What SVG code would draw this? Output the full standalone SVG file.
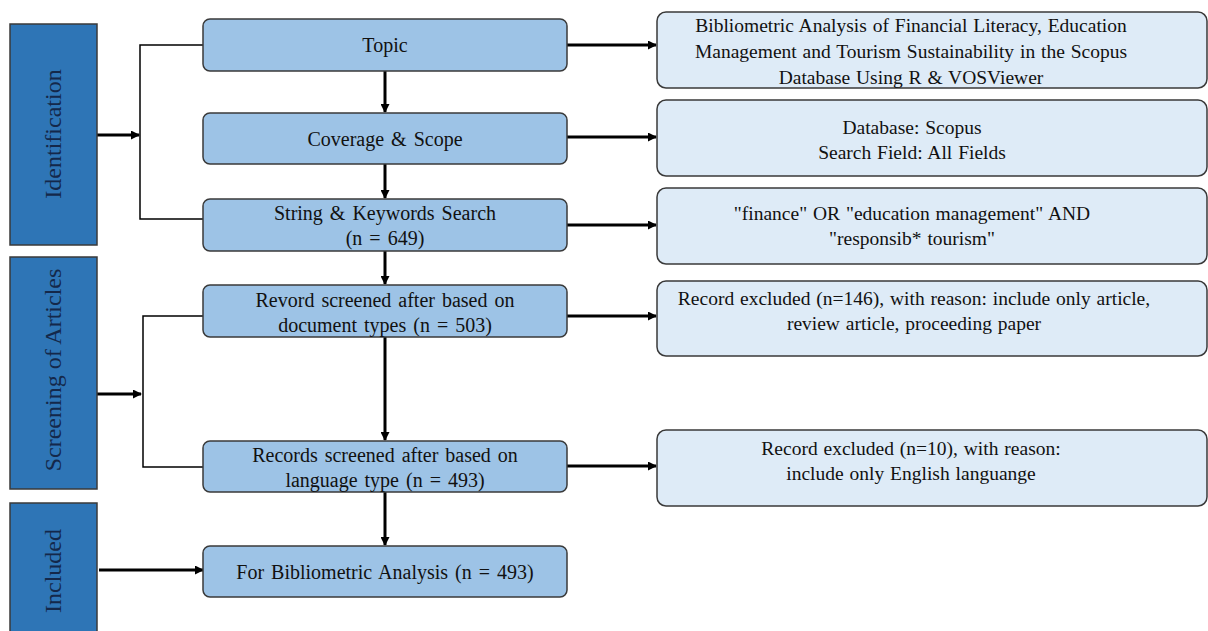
<svg xmlns="http://www.w3.org/2000/svg" width="1208" height="631" viewBox="0 0 1208 631">
<style>
.stage{fill:#2E75B6;stroke:#3a3a3a;stroke-width:1.5}
.main{fill:#9DC3E6;stroke:#3a3a3a;stroke-width:1.5}
.side{fill:#DEEBF7;stroke:#3a3a3a;stroke-width:1.5}
.st{font-family:"Liberation Serif","Times New Roman",serif;font-size:24px;fill:#14284a;text-anchor:middle}
.mt{font-family:"Liberation Serif","Times New Roman",serif;font-size:20px;fill:#111;text-anchor:middle;word-spacing:2px}
.rt{font-family:"Liberation Serif","Times New Roman",serif;font-size:19.5px;fill:#111;text-anchor:middle;word-spacing:1px}
.arr{stroke:#000;stroke-width:3;fill:none;marker-end:url(#ah)}
.br{stroke:#000;stroke-width:1.5;fill:none}
</style>
<defs>
<marker id="ah" markerWidth="9" markerHeight="9" refX="8" refY="4.5" orient="auto" markerUnits="userSpaceOnUse" viewBox="0 0 9 9">
<path d="M0,0 L9,4.5 L0,9 Z" fill="#000"/>
</marker>
</defs>
<rect width="1208" height="631" fill="#fff"/>
<g id="connectors">
<path class="br" d="M205,45 H140 V219 H205"/>
<path class="br" d="M205,316 H143 V467 H205"/>
<line class="arr" x1="97" y1="135" x2="139" y2="135"/>
<line class="arr" x1="97" y1="394" x2="141" y2="394"/>
<line class="arr" x1="99" y1="570" x2="203" y2="570"/>
<line class="arr" x1="385" y1="71" x2="385" y2="112"/>
<line class="arr" x1="385" y1="164" x2="385" y2="198"/>
<line class="arr" x1="385" y1="251" x2="385" y2="284"/>
<line class="arr" x1="385" y1="337" x2="385" y2="440"/>
<line class="arr" x1="385" y1="492" x2="385" y2="545"/>
<line class="arr" x1="567" y1="45" x2="656" y2="45"/>
<line class="arr" x1="567" y1="137" x2="656" y2="137"/>
<line class="arr" x1="567" y1="225" x2="656" y2="225"/>
<line class="arr" x1="567" y1="316" x2="656" y2="316"/>
<line class="arr" x1="567" y1="466" x2="656" y2="466"/>
</g>
<g id="stage-identification">
<rect class="stage" x="10" y="24" width="87" height="221"/>
<text class="st" transform="translate(61,134) rotate(-90)">Identification</text>
</g>
<g id="stage-screening">
<rect class="stage" x="10" y="257" width="87" height="232"/>
<text class="st" transform="translate(61,370) rotate(-90)">Screening of Articles</text>
</g>
<g id="stage-included">
<rect class="stage" x="10" y="503" width="87" height="140"/>
<text class="st" transform="translate(61,571) rotate(-90)">Included</text>
</g>
<g id="topic">
<rect class="main" x="203" y="19" width="364" height="52" rx="7"/>
<text class="mt" x="385" y="52">Topic</text>
</g>
<g id="coverage">
<rect class="main" x="203" y="113" width="364" height="51" rx="7"/>
<text class="mt" x="385" y="146">Coverage &amp; Scope</text>
</g>
<g id="string">
<rect class="main" x="203" y="199" width="364" height="52" rx="7"/>
<text class="mt" x="385" y="220">String &amp; Keywords Search</text>
<text class="mt" x="385" y="245">(n = 649)</text>
</g>
<g id="revord">
<rect class="main" x="203" y="285" width="364" height="52" rx="7"/>
<text class="mt" x="385" y="307">Revord screened after based on</text>
<text class="mt" x="385" y="332">document types (n = 503)</text>
</g>
<g id="records">
<rect class="main" x="203" y="441" width="364" height="51" rx="7"/>
<text class="mt" x="385" y="462">Records screened after based on</text>
<text class="mt" x="385" y="487">language type (n = 493)</text>
</g>
<g id="included-analysis">
<rect class="main" x="203" y="546" width="364" height="51" rx="7"/>
<text class="mt" x="385" y="579">For Bibliometric Analysis (n = 493)</text>
</g>
<g id="side-topic">
<rect class="side" x="657" y="12" width="550" height="76" rx="9"/>
<text class="rt" x="911" y="32">Bibliometric Analysis of Financial Literacy, Education</text>
<text class="rt" x="911" y="58">Management and Tourism Sustainability in the Scopus</text>
<text class="rt" x="911" y="84">Database Using R &amp; VOSViewer</text>
</g>
<g id="side-coverage">
<rect class="side" x="657" y="100" width="550" height="76" rx="9"/>
<text class="rt" x="912" y="134">Database: Scopus</text>
<text class="rt" x="912" y="159">Search Field: All Fields</text>
</g>
<g id="side-string">
<rect class="side" x="657" y="188" width="550" height="76" rx="9"/>
<text class="rt" x="912" y="220">"finance" OR "education management" AND</text>
<text class="rt" x="912" y="245">"responsib* tourism"</text>
</g>
<g id="side-revord">
<rect class="side" x="657" y="281" width="550" height="75" rx="9"/>
<text class="rt" x="914" y="305">Record excluded (n=146), with reason: include only article,</text>
<text class="rt" x="914" y="330">review article, proceeding paper</text>
</g>
<g id="side-records">
<rect class="side" x="657" y="430" width="550" height="76" rx="9"/>
<text class="rt" x="911" y="455">Record excluded (n=10), with reason:</text>
<text class="rt" x="911" y="480">include only English languange</text>
</g>
</svg>
